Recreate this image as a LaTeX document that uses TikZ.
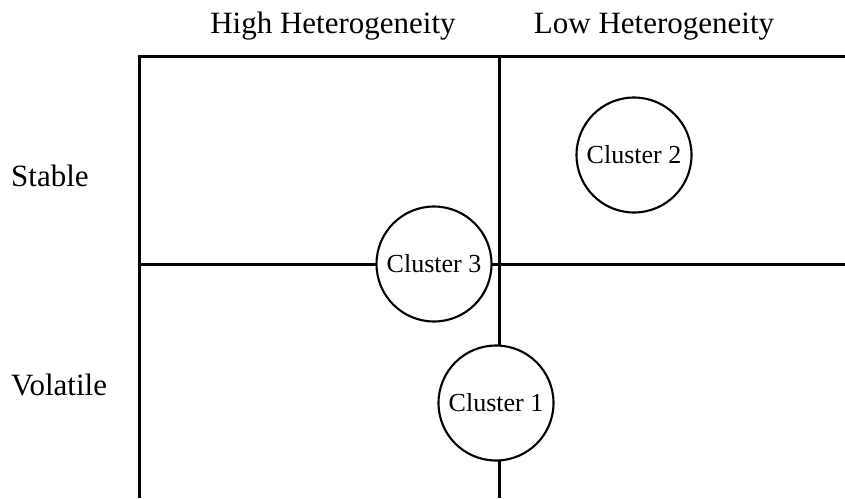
\documentclass[tikz,border=0pt]{standalone}
\usepackage{fontspec}
\setmainfont{Liberation Serif}
\usetikzlibrary{positioning}

\begin{document}
\begin{tikzpicture}[x=1pt, y=-1pt,
  grid/.style={line width=3pt},
  label/.style={font=\fontsize{31}{36}\selectfont, inner sep=0pt},
  cluster/.style={draw, circle, fill=white, line width=2.1pt, minimum size=115pt, inner sep=0pt, font=\fontsize{26}{30}\selectfont}]
  \useasboundingbox (0,0) rectangle (845,498);

  % corners of the matrix
  \coordinate (tl) at (139,56);
  \coordinate (tm) at (499,56);
  \coordinate (tr) at (845,56);
  \coordinate (ml) at (139,264);
  \coordinate (mr) at (845,264);
  \coordinate (bl) at (139,498);
  \coordinate (bm) at (499,498);

  \draw[grid] (bl) -- (tl) -- (tr);
  \draw[grid] (tm) -- (bm);
  \draw[grid] (ml) -- (mr);

  % axis labels
  \node[label, anchor=base] (high) at (333,33) {High Heterogeneity};
  \node[label, anchor=base] (low) at (654,33) {Low Heterogeneity};
  \node[label, anchor=base west] (stable) at (11,186) {Stable};
  \node[label, anchor=base west] (volatile) at (11,395) {Volatile};

  % clusters
  \node[cluster] (c3) at (434,264) {Cluster 3};
  \node[cluster] (c2) at (634,155) {Cluster 2};
  \node[cluster] (c1) at (496,403) {Cluster 1};
\end{tikzpicture}
\end{document}
